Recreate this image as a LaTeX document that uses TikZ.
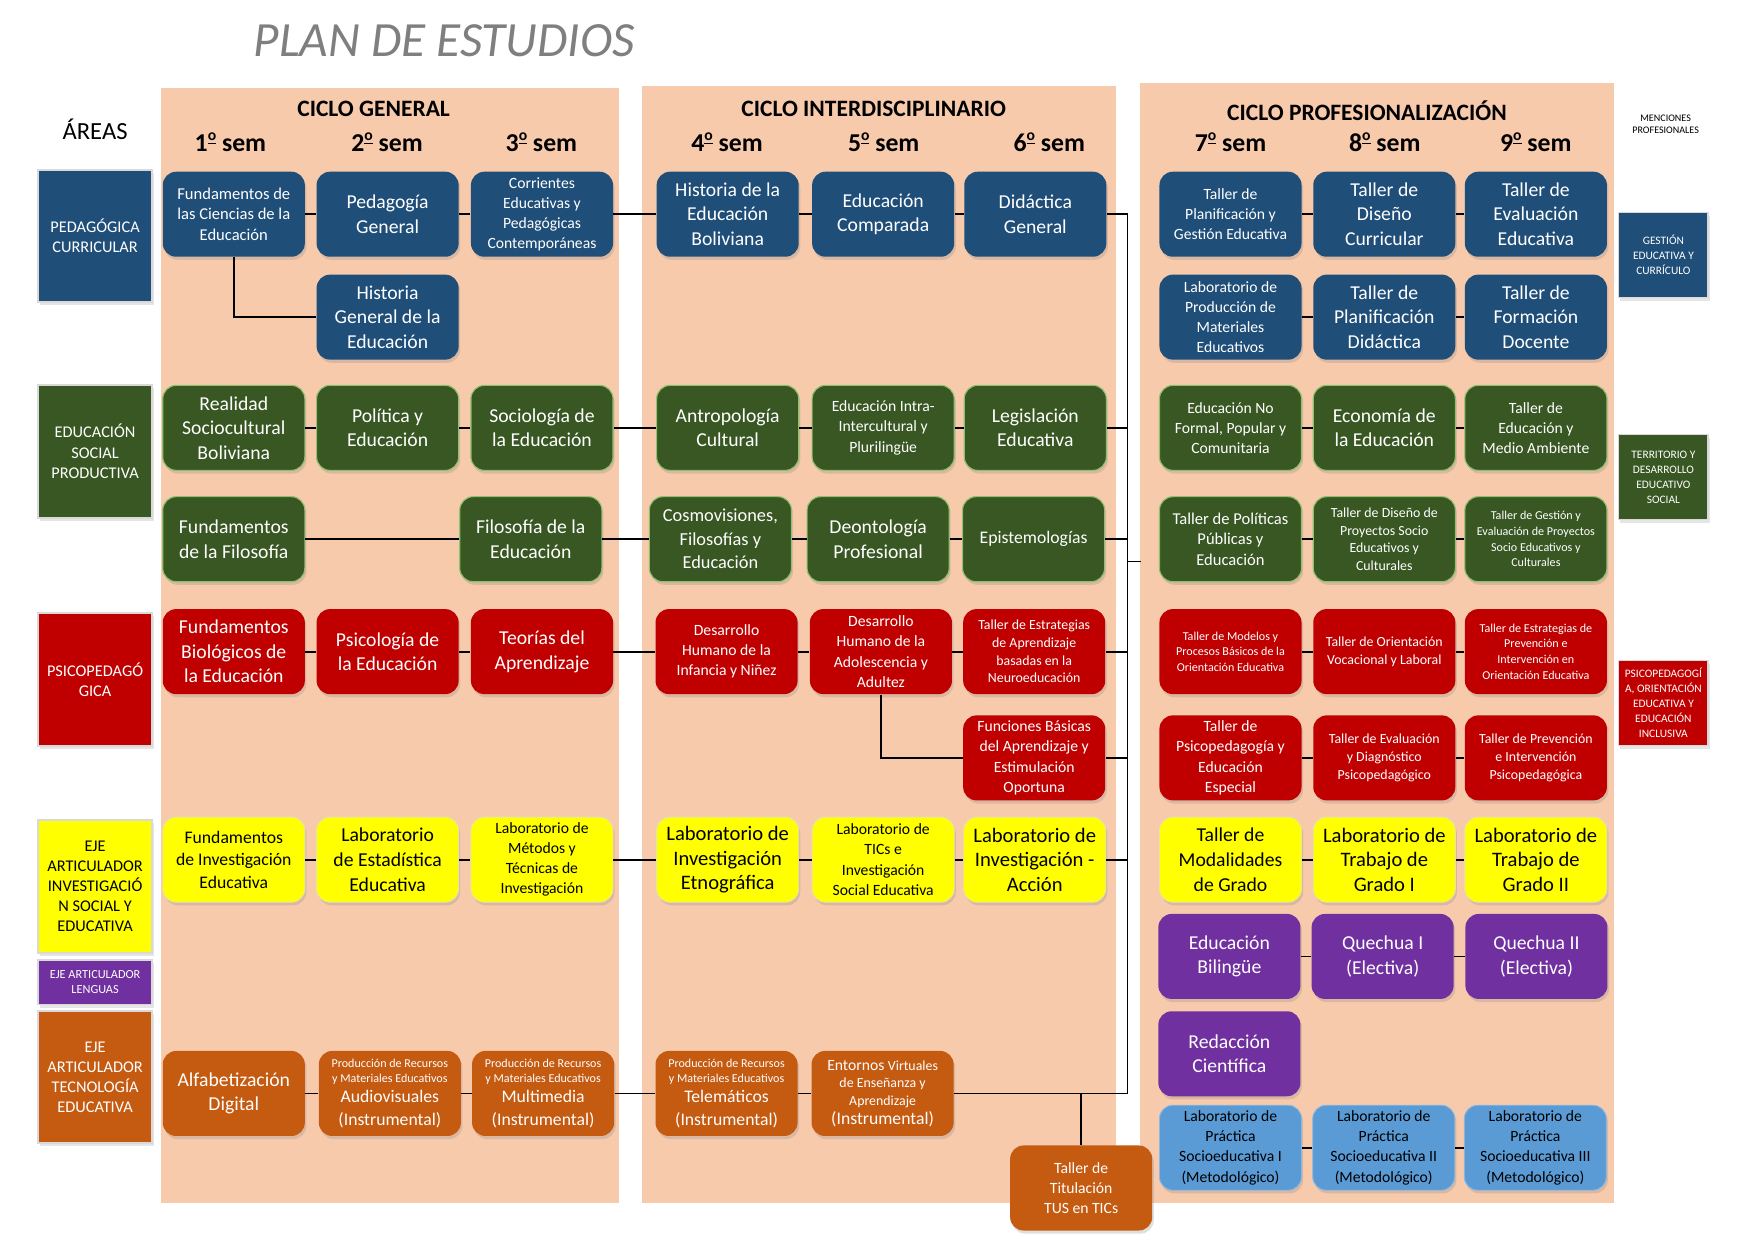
\documentclass[tikz,border=0pt]{standalone}
\usepackage{fontspec}
\setmainfont{Carlito}
\usetikzlibrary{shadows}

\definecolor{cblue}{HTML}{1F4E79}
\definecolor{cgreen}{HTML}{385723}
\definecolor{cgreenl}{HTML}{8FBF6F}
\definecolor{cred}{HTML}{C00000}
\definecolor{cyellow}{HTML}{FFFF00}
\definecolor{cyellowl}{HTML}{E6E6A0}
\definecolor{cpurple}{HTML}{7030A0}
\definecolor{corange}{HTML}{C55A11}
\definecolor{clblue}{HTML}{5B9BD5}
\definecolor{cpeach}{HTML}{F7CAAC}
\definecolor{ctitle}{HTML}{7F7F7F}

% text sizes used in the course boxes
\newcommand\szLL{\fontsize{9.2}{11}\selectfont}
\newcommand\szL{\fontsize{8.8}{11}\selectfont}
\newcommand\szML{\fontsize{7.9}{10}\selectfont}
\newcommand\szM{\fontsize{7.4}{9}\selectfont}
\newcommand\szS{\fontsize{7}{9}\selectfont}
\newcommand\szXS{\fontsize{6.2}{7.9}\selectfont}
\newcommand\szXXS{\fontsize{5.4}{7}\selectfont}
\newcommand\szArea{\fontsize{7.3}{9}\selectfont}
\newcommand\szMen{\fontsize{5.1}{6.7}\selectfont}
% underlined raised ordinal "o" for the semester labels
\newcommand\ordo{\raisebox{0.42em}{\fontsize{7}{7}\selectfont\underline{o}}}

\begin{document}
\begin{tikzpicture}[x=0.5pt,y=-0.5pt,
  crs/.style={rounded corners=6pt, minimum width=63.5pt, minimum height=38pt,
    inner sep=0pt, align=center, text=white, font=\szL,
    drop shadow={shadow xshift=0.7pt, shadow yshift=-1.4pt, opacity=0.25}},
  cb/.style={crs, fill=cblue},
  cg/.style={crs, fill=cgreen, draw=cgreenl, line width=0.5pt},
  cr/.style={crs, fill=cred},
  cy/.style={crs, fill=cyellow, text=black, draw=cyellowl, line width=0.4pt},
  cp/.style={crs, fill=cpurple},
  co/.style={crs, fill=corange},
  cl/.style={crs, fill=clblue, text=black, draw=clblue!70!white, line width=0.4pt},
  area/.style={inner sep=0pt, align=center, minimum width=51pt, text=white,
    draw=black!15, line width=0.7pt, font=\szArea,
    drop shadow={shadow xshift=0.7pt, shadow yshift=-1.4pt, opacity=0.2}},
  mention/.style={area, minimum width=40pt, minimum height=38pt, font=\szMen},
  cyc/.style={font=\fontsize{10.5}{12}\selectfont\bfseries},
  sem/.style={font=\fontsize{11.5}{13}\selectfont\bfseries},
  link/.style={draw=black, line width=0.8pt}
]
\useasboundingbox (0,0) rectangle (1568,1109);
\fill[white] (0,0) rectangle (1568,1109);

% cycle panels
\fill[cpeach] (144,79) rectangle (553,1075);
\fill[cpeach] (574,77) rectangle (998,1075);
\fill[cpeach] (1019,74) rectangle (1443,1075);

% headings
\node[font=\fontsize{22}{26}\selectfont\itshape, text=ctitle] (title) at (397,36) {PLAN DE ESTUDIOS};
\node[font=\fontsize{11}{13}\selectfont] (hAreas) at (85,116) {ÁREAS};
\node[cyc] (hCG) at (334,97) {CICLO GENERAL};
\node[cyc] (hCI) at (781,97) {CICLO INTERDISCIPLINARIO};
\node[cyc] (hCP) at (1222,99) {CICLO PROFESIONALIZACIÓN};
\node[sem] (h1) at (206,127) {1\ordo\ sem};
\node[sem] (h2) at (346,127) {2\ordo\ sem};
\node[sem] (h3) at (484,127) {3\ordo\ sem};
\node[sem] (h4) at (650,127) {4\ordo\ sem};
\node[sem] (h5) at (790,127) {5\ordo\ sem};
\node[sem] (h6) at (938,127) {6\ordo\ sem};
\node[sem] (h7) at (1100,127) {7\ordo\ sem};
\node[sem] (h8) at (1238,127) {8\ordo\ sem};
\node[sem] (h9) at (1373,127) {9\ordo\ sem};
\node[font=\fontsize{4.5}{5.6}\selectfont, align=center] (hMen) at (1489,111) {MENCIONES\\PROFESIONALES};

% areas
\node[area, fill=cblue, minimum height=59pt] (aPed) at (85,211) {PEDAGÓGICA\\CURRICULAR};
\node[area, fill=cgreen, minimum height=59.5pt] (aSoc) at (85,403.5) {EDUCACIÓN\\SOCIAL\\PRODUCTIVA};
\node[area, fill=cred, minimum height=59.5pt] (aPsi) at (85,607.5) {PSICOPEDAGÓ\\GICA};
\node[area, fill=cyellow, text=black, minimum height=59.5pt] (aInv) at (85,792.5) {EJE\\ARTICULADOR\\INVESTIGACIÓ\\N SOCIAL Y\\EDUCATIVA};
\node[area, fill=cpurple, minimum height=20pt, font=\fontsize{5.5}{7}\selectfont] (aLen) at (85,878) {EJE ARTICULADOR\\LENGUAS};
\node[area, fill=corange, minimum height=59pt] (aTec) at (85,963) {EJE\\ARTICULADOR\\TECNOLOGÍA\\EDUCATIVA};

% professional mentions
\node[mention, fill=cblue] (mGes) at (1487,228) {GESTIÓN\\EDUCATIVA Y\\CURRÍCULO};
\node[mention, fill=cgreen] (mTer) at (1487,426.5) {TERRITORIO Y\\DESARROLLO\\EDUCATIVO\\SOCIAL};
\node[mention, fill=cred] (mPsi) at (1487,628.5) {PSICOPEDAGOGÍ\\A, ORIENTACIÓN\\EDUCATIVA Y\\EDUCACIÓN\\INCLUSIVA};

% ---------- pedagógica curricular ----------
\node[cb, font=\szM] (n11) at (209,191.5) {Fundamentos de\\las Ciencias de la\\Educación};
\node[cb] (n12) at (346.5,191.5) {Pedagogía\\General};
\node[cb, font=\szS] (n13) at (484.5,191.5) {Corrientes\\Educativas y\\Pedagógicas\\Contemporáneas};
\node[cb] (n12b) at (346.5,283.5) {Historia\\General de la\\Educación};
\node[cb] (n14) at (650.5,191.5) {Historia de la\\Educación\\Boliviana};
\node[cb] (n15) at (789.5,191.5) {Educación\\Comparada};
\node[cb] (n16) at (925.5,191.5) {Didáctica\\General};
\node[cb, font=\szS] (n17) at (1100,191.5) {Taller de\\Planificación y\\Gestión Educativa};
\node[cb] (n18) at (1237.5,191.5) {Taller de\\Diseño\\Curricular};
\node[cb] (n19) at (1373,191.5) {Taller de\\Evaluación\\Educativa};
\node[cb, font=\szS] (n17b) at (1100,283.5) {Laboratorio de\\Producción de\\Materiales\\Educativos};
\node[cb] (n18b) at (1237.5,283.5) {Taller de\\Planificación\\Didáctica};
\node[cb] (n19b) at (1373,283.5) {Taller de\\Formación\\Docente};

% ---------- educación social productiva ----------
\node[cg] (n21) at (209,382.5) {Realidad\\Sociocultural\\Boliviana};
\node[cg] (n22) at (346.5,382.5) {Política y\\Educación};
\node[cg] (n23) at (484.5,382.5) {Sociología de\\la Educación};
\node[cg] (n24) at (650.5,382.5) {Antropología\\Cultural};
\node[cg, font=\szS] (n25) at (789.5,382.5) {Educación Intra-\\Intercultural y\\Plurilingüe};
\node[cg] (n26) at (925.5,382.5) {Legislación\\Educativa};
\node[cg, font=\szS] (n27) at (1100,382.5) {Educación No\\Formal, Popular y\\Comunitaria};
\node[cg] (n28) at (1237.5,382.5) {Economía de\\la Educación};
\node[cg, font=\szS] (n29) at (1373,382.5) {Taller de\\Educación y\\Medio Ambiente};

\node[cg] (n31) at (209,482) {Fundamentos\\de la Filosofía};
\node[cg] (n33) at (474.5,482) {Filosofía de la\\Educación};
\node[cg, font=\fontsize{8.2}{10.5}\selectfont] (n34) at (644,482) {Cosmovisiones,\\Filosofías y\\Educación};
\node[cg] (n35) at (785,482) {Deontología\\Profesional};
\node[cg, font=\szML] (n36) at (924,482) {Epistemologías};
\node[cg, font=\szM] (n37) at (1100,482) {Taller de Políticas\\Públicas y\\Educación};
\node[cg, font=\szXS] (n38) at (1237.5,482) {Taller de Diseño de\\Proyectos Socio\\Educativos y\\Culturales};
\node[cg, font=\szXXS] (n39) at (1373,482) {Taller de Gestión y\\Evaluación de Proyectos\\Socio Educativos y\\Culturales};

% ---------- psicopedagógica ----------
\node[cr] (n41) at (209,582.5) {Fundamentos\\Biológicos de\\la Educación};
\node[cr] (n42) at (346.5,582.5) {Psicología de\\la Educación};
\node[cr] (n43) at (484.5,582.5) {Teorías del\\Aprendizaje};
\node[cr, font=\szS] (n44) at (649.5,582.5) {Desarrollo\\Humano de la\\Infancia y Niñez};
\node[cr, font=\szS] (n45) at (787.5,582.5) {Desarrollo\\Humano de la\\Adolescencia y\\Adultez};
\node[cr, font=\szXS] (n46) at (924.5,582.5) {Taller de Estrategias\\de Aprendizaje\\basadas en la\\Neuroeducación};
\node[cr, font=\szS] (n46b) at (924.5,677.5) {Funciones Básicas\\del Aprendizaje y\\Estimulación\\Oportuna};
\node[cr, font=\szXXS] (n47) at (1100,582.5) {Taller de Modelos y\\Procesos Básicos de la\\Orientación Educativa};
\node[cr, font=\szXS] (n48) at (1237.5,582.5) {Taller de Orientación\\Vocacional y Laboral};
\node[cr, font=\szXXS] (n49) at (1373,582.5) {Taller de Estrategias de\\Prevención e\\Intervención en\\Orientación Educativa};
\node[cr, font=\szS] (n47b) at (1100,677.5) {Taller de\\Psicopedagogía y\\Educación\\Especial};
\node[cr, font=\szXS] (n48b) at (1237.5,677.5) {Taller de Evaluación\\y Diagnóstico\\Psicopedagógico};
\node[cr, font=\szXS] (n49b) at (1373,677.5) {Taller de Prevención\\e Intervención\\Psicopedagógica};

% ---------- investigación social y educativa ----------
\node[cy, font=\szML] (n51) at (209,768.5) {Fundamentos\\de Investigación\\Educativa};
\node[cy] (n52) at (346.5,768.5) {Laboratorio\\de Estadística\\Educativa};
\node[cy, font=\szS] (n53) at (484.5,768.5) {Laboratorio de\\Métodos y\\Técnicas de\\Investigación};
\node[cy, font=\szLL] (n54) at (650.5,768.5) {Laboratorio de\\Investigación\\Etnográfica};
\node[cy, font=\szS] (n55) at (789.5,768.5) {Laboratorio de\\TICs e\\Investigación\\Social Educativa};
\node[cy, font=\szLL] (n56) at (925,768.5) {Laboratorio de\\Investigación -\\Acción};
\node[cy] (n57) at (1100,768.5) {Taller de\\Modalidades\\de Grado};
\node[cy, font=\szLL] (n58) at (1237.5,768.5) {Laboratorio de\\Trabajo de\\Grado I};
\node[cy, font=\szLL] (n59) at (1373,768.5) {Laboratorio de\\Trabajo de\\Grado II};

% ---------- lenguas ----------
\node[cp] (n67) at (1099,855) {Educación\\Bilingüe};
\node[cp] (n68) at (1236,855) {Quechua I\\(Electiva)};
\node[cp] (n69) at (1373.5,855) {Quechua II\\(Electiva)};
\node[cp] (n77) at (1099,942) {Redacción\\Científica};

% ---------- práctica socioeducativa ----------
\node[cl, font=\szS] (n87) at (1100,1026) {Laboratorio de\\Práctica\\Socioeducativa I\\(Metodológico)};
\node[cl, font=\szS] (n88) at (1237,1026) {Laboratorio de\\Práctica\\Socioeducativa II\\(Metodológico)};
\node[cl, font=\szS] (n89) at (1372.5,1026) {Laboratorio de\\Práctica\\Socioeducativa III\\(Metodológico)};

% ---------- tecnología educativa ----------
\node[co] (o1) at (209,977.5) {Alfabetización\\Digital};
\node[co, font=\szML] (o2) at (348.5,977.5) {\szXXS Producción de Recursos\\[-3.2pt]\szXXS y Materiales Educativos\\[-1pt]\szML Audiovisuales\\(Instrumental)};
\node[co, font=\szML] (o3) at (485.5,977.5) {\szXXS Producción de Recursos\\[-3.2pt]\szXXS y Materiales Educativos\\[-1pt]\szML Multimedia\\(Instrumental)};
\node[co, font=\szML] (o4) at (649.5,977.5) {\szXXS Producción de Recursos\\[-3.2pt]\szXXS y Materiales Educativos\\[-1pt]\szML Telemáticos\\(Instrumental)};
\node[co, font=\szXS] (o5) at (789,977.5) {\szS Entornos {\szXS Virtuales}\\de Enseñanza y\\Aprendizaje\\[0.5pt]\szML(Instrumental)};
\node[co, font=\szS] (tit) at (966.5,1062) {Taller de\\Titulación\\TUS en TICs};

% ---------- connectors ----------
\coordinate (busT) at (1008,191.5);
\coordinate (busB) at (1008,977.5);
\coordinate (busM) at (1008,502);
\coordinate (stubE) at (1020,502);

\draw[link] (n11.east) -- (n12.west) (n12.east) -- (n13.west) (n13.east) -- (n14.west)
  (n14.east) -- (n15.west) (n15.east) -- (n16.west) (n16.east) -- (busT) -- (busB);
\draw[link] (n11.south) |- (n12b.west);
\draw[link] (n17.east) -- (n18.west) (n18.east) -- (n19.west);
\draw[link] (n17b.east) -- (n18b.west) (n18b.east) -- (n19b.west);

\draw[link] (n21.east) -- (n22.west) (n22.east) -- (n23.west) (n23.east) -- (n24.west)
  (n24.east) -- (n25.west) (n25.east) -- (n26.west) (n26.east) -- (n26.east -| busT);
\draw[link] (n27.east) -- (n28.west) (n28.east) -- (n29.west);

\draw[link] (n31.east) -- (n33.west) (n33.east) -- (n34.west) (n34.east) -- (n35.west)
  (n35.east) -- (n36.west) (n36.east) -- (n36.east -| busT);
\draw[link] (n37.east) -- (n38.west) (n38.east) -- (n39.west);
\draw[link] (busM) -- (stubE);

\draw[link] (n41.east) -- (n42.west) (n42.east) -- (n43.west) (n43.east) -- (n44.west)
  (n44.east) -- (n45.west) (n45.east) -- (n46.west) (n46.east) -- (n46.east -| busT);
\draw[link] (n45.south) |- (n46b.west);
\draw[link] (n46b.east) -- (n46b.east -| busT);
\draw[link] (n47.east) -- (n48.west) (n48.east) -- (n49.west);
\draw[link] (n47b.east) -- (n48b.west) (n48b.east) -- (n49b.west);

\draw[link] (n51.east) -- (n52.west) (n52.east) -- (n53.west) (n53.east) -- (n54.west)
  (n54.east) -- (n55.west) (n55.east) -- (n56.west) (n56.east) -- (n56.east -| busT);
\draw[link] (n57.east) -- (n58.west) (n58.east) -- (n59.west);

\draw[link] (n67.east) -- (n68.west) (n68.east) -- (n69.west);
\draw[link] (n87.east) -- (n88.west) (n88.east) -- (n89.west);

\draw[link] (o1.east) -- (o2.west) (o2.east) -- (o3.west) (o3.east) -- (o4.west)
  (o4.east) -- (o5.west) (o5.east) -- (busB);
\draw[link] (tit.north) -- (tit.north |- busB);
\end{tikzpicture}
\end{document}
